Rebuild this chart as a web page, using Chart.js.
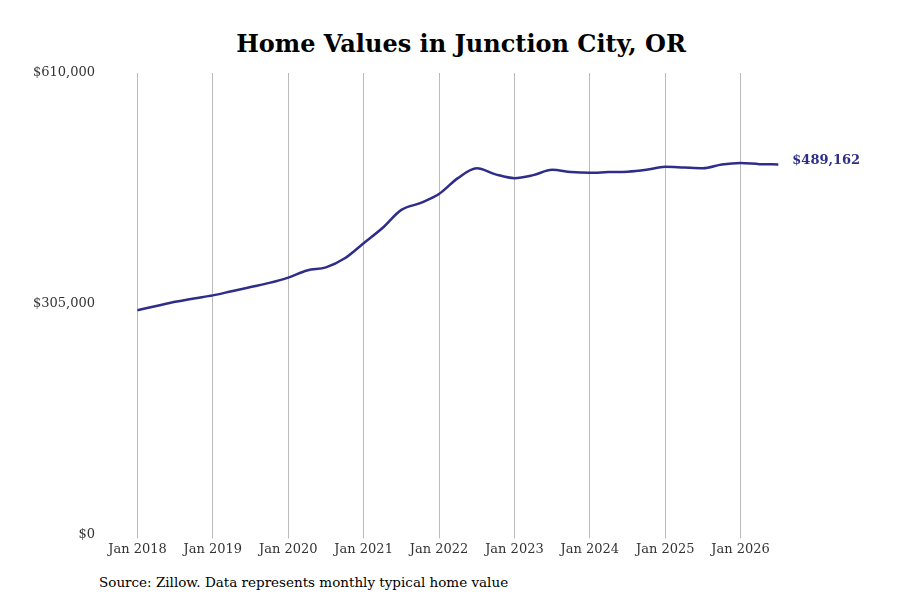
<!DOCTYPE html>
<html><head><meta charset="utf-8">
<script src="https://cdn.jsdelivr.net/npm/chart.js@4"></script>
<style>
body{margin:0;background:#fff;font-family:"DejaVu Serif",serif}
#wrap{position:relative;width:900px;height:600px}
h1{position:absolute;top:29px;left:0;width:922px;text-align:center;margin:0;font-size:24px;font-weight:bold;font-family:"DejaVu Serif",serif}
#src{position:absolute;left:99px;top:574px;font-size:13.5px}
#cv{position:absolute;left:0;top:60px}
</style></head><body>
<div id="wrap">
<h1>Home Values in Junction City, OR</h1>
<canvas id="cv" width="900" height="500"></canvas>
<div id="src">Source: Zillow. Data represents monthly typical home value</div>
</div>
<script>
// month index since Jan 2018
var months = [0, 3, 6, 9, 12, 15, 18, 21, 24, 27, 30, 33, 36, 39, 42, 45, 48, 51, 54, 57, 60, 63, 66, 69, 72, 75, 78, 81, 84, 87, 90, 93, 96, 99, 102];
var values = [296400, 302000, 307500, 312000, 316000, 321500, 327000, 332500, 339500, 349000, 353000, 365000, 385000, 405000, 429000, 438000, 450000, 471000, 484000, 476000, 471000, 475000, 482000, 479000, 478000, 479000, 479500, 482000, 486000, 485000, 484000, 489000, 491000, 489500, 489162];
var yearLabels = ['Jan 2018','Jan 2019','Jan 2020','Jan 2021','Jan 2022','Jan 2023','Jan 2024','Jan 2025','Jan 2026'];
var yTicks = [0, 305000, 610000];
var color = '#2e2e8a';

var endLabel = {
  id: 'endLabel',
  afterDatasetsDraw: function(chart) {
    var meta = chart.getDatasetMeta(0);
    var p = meta.data[meta.data.length - 1];
    var ctx = chart.ctx;
    ctx.save();
    ctx.fillStyle = color;
    ctx.font = 'bold 13px "DejaVu Serif"';
    ctx.textBaseline = 'middle';
    ctx.fillText('$' + values[values.length - 1].toLocaleString('en-US'), p.x + 14, p.y - 4);
    ctx.restore();
  }
};

new Chart(document.getElementById('cv'), {
  type: 'line',
  data: {
    datasets: [{
      data: months.map(function(m, i) { return {x: m, y: values[i]}; }),
      borderColor: color,
      borderWidth: 2.5,
      pointRadius: 0,
      tension: 0.4,
      cubicInterpolationMode: 'monotone'
    }]
  },
  options: {
    responsive: false,
    animation: false,
    layout: {padding: {left: 30, right: 84, top: 13, bottom: 0}},
    plugins: {legend: {display: false}, tooltip: {enabled: false}},
    scales: {
      x: {
        type: 'linear', min: -5, max: 108,
        afterBuildTicks: function(ax) { ax.ticks = yearLabels.map(function(l, i) { return {value: i * 12}; }); },
        ticks: {
          callback: function(v) { return yearLabels[v / 12]; },
          color: '#333', font: {family: 'DejaVu Serif', size: 13}, maxRotation: 0, autoSkip: false
        },
        grid: {color: '#bbb', drawTicks: true, tickLength: 4},
        border: {display: false}
      },
      y: {
        min: 0, max: 610000,
        afterBuildTicks: function(ax) { ax.ticks = yTicks.map(function(v) { return {value: v}; }); },
        ticks: {
          callback: function(v) { return '$' + v.toLocaleString('en-US'); },
          color: '#333', font: {family: 'DejaVu Serif', size: 13}
        },
        grid: {display: false},
        border: {display: false}
      }
    }
  },
  plugins: [endLabel]
});
</script>
</body></html>
